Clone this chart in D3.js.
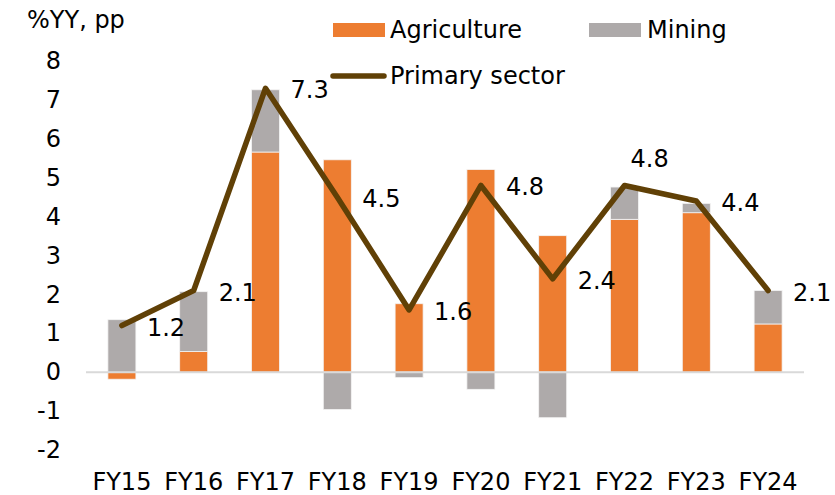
<!DOCTYPE html>
<html>
<head>
<meta charset="utf-8">
<script src="https://cdn.jsdelivr.net/npm/d3@7"></script>
<style>
  body { margin: 0; background: #fff; }
  text { font-family: "DejaVu Sans", sans-serif; fill: #000; }
</style>
</head>
<body>
<svg id="chart" width="835" height="495"></svg>
<script>
// chart data
const categories = ["FY15", "FY16", "FY17", "FY18", "FY19", "FY20", "FY21", "FY22", "FY23", "FY24"];
const agriculture = [-0.18, 0.53, 5.66, 5.46, 1.76, 5.21, 3.51, 3.93, 4.10, 1.24];
const mining = [1.35, 1.54, 1.60, -0.96, -0.14, -0.44, -1.17, 0.83, 0.24, 0.86];
const primary = [1.2, 2.1, 7.3, 4.5, 1.6, 4.8, 2.4, 4.8, 4.4, 2.1];
const yTicks = [-2, -1, 0, 1, 2, 3, 4, 5, 6, 7, 8];
// label placement: "right" of the point, or "above" it
const labelPos = ["right", "right", "right", "right", "right", "right", "right", "above", "right", "right"];

const colors = { agriculture: "#ED7D31", mining: "#AEAAAA", primary: "#604006" };

const svg = d3.select("#chart");

const x = d3.scaleBand().domain(categories).range([86, 804]).paddingInner(0.61).paddingOuter(0.305);
const y = d3.scaleLinear().domain([-2, 8]).range([450, 61]);

// stacked bars (positives go up, negatives go down)
const rows = categories.map((c, i) => ({ cat: c, agriculture: agriculture[i], mining: mining[i] }));
const series = d3.stack().keys(["agriculture", "mining"]).offset(d3.stackOffsetDiverging)(rows);

svg.append("g").selectAll("g")
    .data(series)
    .enter().append("g")
    .attr("fill", d => colors[d.key])
    .selectAll("rect")
    .data(d => d)
    .enter().append("rect")
    .attr("x", d => x(d.data.cat))
    .attr("y", d => y(Math.max(d[0], d[1])))
    .attr("width", x.bandwidth())
    .attr("height", d => Math.abs(y(d[0]) - y(d[1])))
    .attr("stroke", "#f4f4f4")
    .attr("stroke-width", 0.8);

// zero line
svg.append("line")
    .attr("x1", 86).attr("x2", 804)
    .attr("y1", y(0)).attr("y2", y(0))
    .attr("stroke", "#D9D9D9")
    .attr("stroke-width", 2);

// y axis labels (no axis line), plain hyphen for negatives like the original
const yAxis = svg.append("g")
    .attr("transform", "translate(61,0)")
    .call(d3.axisLeft(y).tickValues(yTicks).tickSize(0).tickPadding(0).tickFormat(d => String(d)));
yAxis.select(".domain").remove();
yAxis.selectAll("text").style("font-size", "24px").attr("font-family", "DejaVu Sans").attr("fill", "#000");

// x axis labels
const xAxis = svg.append("g")
    .attr("transform", "translate(0,473)")
    .call(d3.axisBottom(x).tickSize(0).tickPadding(0));
xAxis.select(".domain").remove();
xAxis.selectAll("text").style("font-size", "24px").attr("font-family", "DejaVu Sans").attr("fill", "#000");

// primary sector line
const line = d3.line()
    .x((d, i) => x(categories[i]) + x.bandwidth() / 2)
    .y(d => y(d));

svg.append("path")
    .datum(primary)
    .attr("fill", "none")
    .attr("stroke", colors.primary)
    .attr("stroke-width", 5.5)
    .attr("stroke-linejoin", "round")
    .attr("stroke-linecap", "round")
    .attr("d", line);

// data labels
svg.append("g").selectAll("text")
    .data(primary)
    .enter().append("text")
    .attr("x", (d, i) => x(categories[i]) + x.bandwidth() / 2 + (labelPos[i] === "above" ? 6 : 25))
    .attr("y", (d, i) => y(d) + (labelPos[i] === "above" ? -25 : 3))
    .attr("dominant-baseline", "middle")
    .style("font-size", "24px")
    .text(d => d3.format(".1f")(d));

// title
svg.append("text")
    .attr("x", 27).attr("y", 28)
    .style("font-size", "24px")
    .text("%YY, pp");

// legend
const legend = svg.append("g");
legend.append("rect").attr("x", 333).attr("y", 23).attr("width", 52).attr("height", 14).attr("fill", colors.agriculture);
legend.append("text").attr("x", 390).attr("y", 38).style("font-size", "24px").text("Agriculture");
legend.append("rect").attr("x", 589).attr("y", 23).attr("width", 52).attr("height", 14).attr("fill", colors.mining);
legend.append("text").attr("x", 647).attr("y", 38).style("font-size", "24px").text("Mining");
legend.append("line").attr("x1", 333).attr("x2", 384).attr("y1", 76).attr("y2", 76)
    .attr("stroke", colors.primary).attr("stroke-width", 5.5).attr("stroke-linecap", "round");
legend.append("text").attr("x", 390).attr("y", 84).style("font-size", "24px").text("Primary sector");
</script>
</body>
</html>
